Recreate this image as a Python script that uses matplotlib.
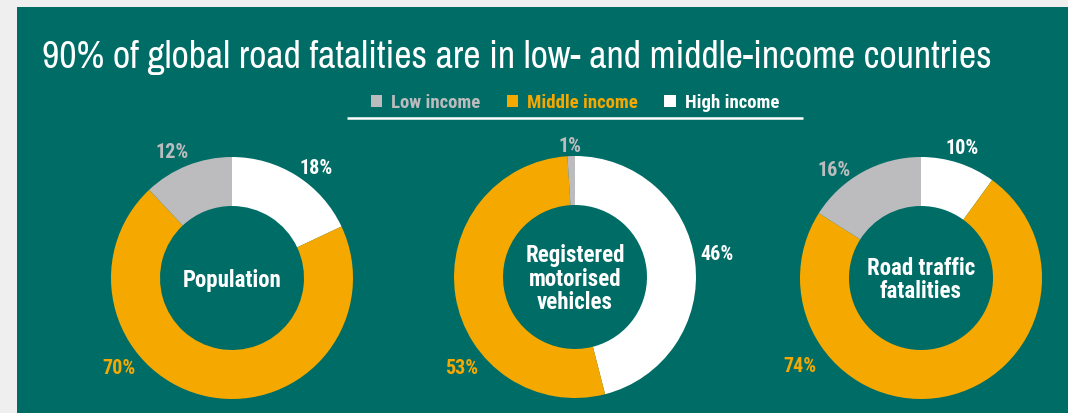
import matplotlib
matplotlib.use("Agg")
import matplotlib.pyplot as plt
from matplotlib.patches import Rectangle, Patch

# data
groups = ["High income", "Middle income", "Low income"]
population = [18, 70, 12]
vehicles = [46, 53, 1]
fatalities = [10, 74, 16]
donut_titles = ["Population", "Registered\nmotorised\nvehicles", "Road traffic\nfatalities"]
legend_labels = ["Low income", "Middle income", "High income"]

# colours
TEAL = "#006c66"
ORANGE = "#f5a900"
GREY = "#bcbcbe"
WHITE = "#ffffff"
slice_colors = [WHITE, ORANGE, GREY]

TITLE_FONT = ["Archivo Narrow", "DejaVu Sans"]
BOLD_FONT = ["Roboto Condensed", "Encode Sans Condensed", "DejaVu Sans"]
W, H = 1068, 413

fig = plt.figure(figsize=(W / 100, H / 100), dpi=100, facecolor="#efefef")
ax = fig.add_axes([0, 0, 1, 1])
ax.set_axis_off()

# teal panel
ax.add_patch(Rectangle((17, 0), W - 17, H - 7, facecolor=TEAL, edgecolor="none", zorder=0))

# donut layout (image pixel coords, y from top)
centers = [(232, 278), (575, 277), (921, 278)]
radius = 121
ring = 49
# label offsets from the centre for High, Middle, Low
label_offsets = [
    [(84, -110), (-113, 90), (-60, -125)],
    [(142, -22), (-113, 91), (-5, -130)],
    [(41, -129), (-121, 88), (-87, -108)],
]

series = [population, vehicles, fatalities]
for vals, (cx, cy), title, offs in zip(series, centers, donut_titles, label_offsets):
    ax.pie(vals, colors=slice_colors, startangle=90, counterclock=False,
           center=(cx, H - cy), radius=radius,
           wedgeprops=dict(width=ring, linewidth=0))
    ax.text(cx, H - cy - 2, title, ha="center", va="center", color=WHITE,
            fontsize=16.5, fontweight="bold", family=BOLD_FONT, linespacing=1.05)
    for v, col, (dx, dy) in zip(vals, slice_colors, offs):
        ax.text(cx + dx, H - cy - dy, f"{v}%", ha="center", va="center",
                color=col, fontsize=14.5, fontweight="bold", family=BOLD_FONT)

ax.set_xlim(0, W)
ax.set_ylim(0, H)
ax.set_aspect("auto")

# title
ax.text(42, H - 68, "90% of global road fatalities are in low- and middle-income countries",
        color=WHITE, fontsize=27.3, family=TITLE_FONT, ha="left", va="baseline")

# legend
handles = [Patch(facecolor=GREY, edgecolor="none"),
           Patch(facecolor=ORANGE, edgecolor="none"),
           Patch(facecolor=WHITE, edgecolor="none")]
leg = ax.legend(handles, legend_labels,
                loc="center", bbox_to_anchor=(575 / W, (H - 103) / H),
                ncol=3, frameon=False, handlelength=0.6, handleheight=0.6,
                handletextpad=0.5, columnspacing=1.4,
                labelcolor=[GREY, ORANGE, WHITE],
                prop=dict(family=BOLD_FONT, weight="bold", size=13.5))
ax.plot([347, 803], [H - 118, H - 118], color=WHITE, linewidth=1.8, solid_capstyle="butt")

fig.savefig("out.png", dpi=100, facecolor=fig.get_facecolor())
